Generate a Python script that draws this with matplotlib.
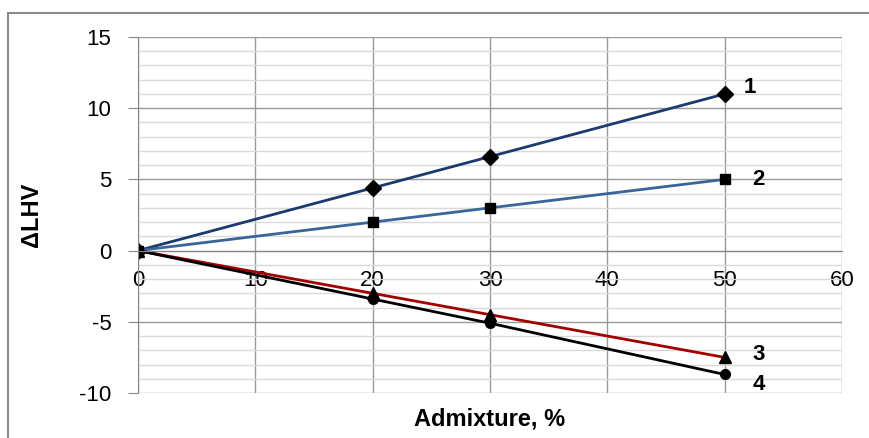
import matplotlib.pyplot as plt
from matplotlib.patches import Rectangle

plt.rcParams['font.family'] = ['Liberation Sans', 'DejaVu Sans']
plt.rcParams['axes.unicode_minus'] = False

x = [0, 20, 30, 50]
s1 = [0, 4.4, 6.6, 11.0]
s2 = [0, 2.0, 3.0, 5.0]
s3 = [0, -3.0, -4.5, -7.5]
s4 = [0, -3.4, -5.1, -8.7]
names = ['1', '2', '3', '4']

fig = plt.figure(figsize=(8.7, 4.38), dpi=100)
ax = fig.add_axes([138 / 870, 1 - 393 / 438, (842 - 138) / 870, (393 - 37) / 438])

# outer chart frame (clipped by image at right/bottom)
fig.patches.append(Rectangle((8 / 870, -0.1), 1.2, 1 - 13 / 438 + 0.1,
                             transform=fig.transFigure, fill=False,
                             edgecolor='#8a8a8a', linewidth=1.5))

ax.set_xlim(0, 60)
ax.set_ylim(-10, 15)
ax.set_xticks(range(0, 61, 10))
ax.set_yticks(range(-10, 16, 5))
ax.set_yticks(range(-10, 16, 1), minor=True)
ax.grid(which='major', color='#999999', linewidth=1.0)
ax.grid(which='minor', axis='y', color='#d9d9d9', linewidth=1.0)
ax.set_axisbelow(True)

for sp in ['top', 'right']:
    ax.spines[sp].set_visible(False)
ax.spines['left'].set_color('#868686')
ax.spines['bottom'].set_position(('data', 0))
ax.spines['bottom'].set_color('#868686')
ax.tick_params(axis='y', which='major', length=7, color='#868686', labelsize=16, pad=12)
ax.tick_params(axis='y', which='minor', length=0)
ax.tick_params(axis='x', length=0, labelsize=16, pad=14)

ax.plot(x, s1, color='#1b3a6e', lw=2, marker='D', ms=8, mfc='black', mec='black')
ax.plot(x, s2, color='#3b6599', lw=2, marker='s', ms=7, mfc='black', mec='black')
ax.plot(x, s3, color='#a00000', lw=2, marker='^', ms=9, mfc='black', mec='black')
ax.plot(x, s4, color='black', lw=2, marker='o', ms=7, mfc='black', mec='black')

offsets = [(14, 5), (20, 0), (20, 2), (20, -7)]
for name, ys, off in zip(names, [s1, s2, s3, s4], offsets):
    ax.annotate(name, (x[-1], ys[-1]), xytext=off, textcoords='offset points',
                fontsize=16, fontweight='bold', va='center', ha='left')

ax.set_xlabel('Admixture, %', fontsize=17, fontweight='bold', labelpad=0)
ax.xaxis.set_label_coords(0.5, -0.04)
ax.set_ylabel('ΔLHV', fontsize=17, fontweight='bold')
ax.yaxis.set_label_coords(-0.135, 0.5)

fig.savefig('out.png', dpi=100)
